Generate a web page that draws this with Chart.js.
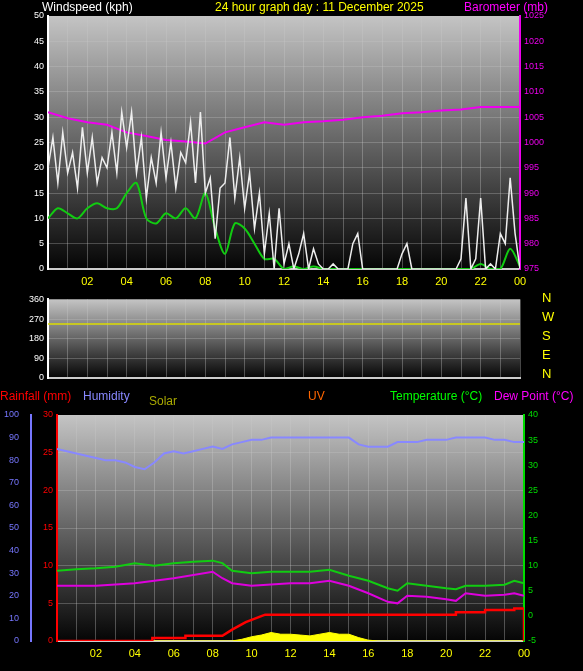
<!DOCTYPE html>
<html><head><meta charset="utf-8">
<script src="https://cdn.jsdelivr.net/npm/chart.js@4.4.1/dist/chart.umd.min.js"></script>
<style>
body{margin:0;background:#000;width:583px;height:671px;overflow:hidden;position:relative;font-family:"Liberation Sans",Arial,sans-serif}
canvas{position:absolute;left:0}
.t{position:absolute;font-size:12px;white-space:nowrap}
</style></head><body>
<canvas id="c1" style="top:0" width="583" height="290"></canvas>
<canvas id="c2" style="top:290px" width="583" height="100"></canvas>
<canvas id="c3" style="top:380px" width="583" height="291"></canvas>
<div class="t" style="left:42px;top:0;color:#fff">Windspeed (kph)</div>
<div class="t" style="left:215px;top:0;color:#ff0">24 hour graph day : 11 December 2025</div>
<div class="t" style="left:464px;top:0;color:#f0f">Barometer (mb)</div>
<div class="t" style="left:542px;top:288px;color:#ff0;line-height:19px;font-size:13px">N<br>W<br>S<br>E<br>N</div>
<div class="t" style="left:0;top:389px;color:#f00">Rainfall (mm)</div>
<div class="t" style="left:83px;top:389px;color:#88f">Humidity</div>
<div class="t" style="left:149px;top:394px;color:#aa0">Solar</div>
<div class="t" style="left:308px;top:389px;color:#f60">UV</div>
<div class="t" style="left:390px;top:389px;color:#0f0">Temperature (°C)</div>
<div class="t" style="left:494px;top:389px;color:#f0f">Dew Point (°C)</div>
<script>
// valeurs
const gust15 = [20,26,17,27, 19,23,16,28, 19,26,17,22, 20,27,19,31, 24,31,19,26, 14,22,17,27,
  18,25,16,23, 21,29,17,31, 15,18,6,16, 17,26,14,22, 12,19,8,15, 3,11,0,12,
  1,5,0,3, 7,0,4,1, 0,0,1,0, 0,0,5,7, 0,0,0,0, 0,0,0,0,
  3,5,0,0, 0,0,0,0, 0,0,0,0, 2,14,0,2, 14,0,1,0, 7,5,18,7, 0];
const avg30 = [10,12,11,10,12,13,12,12,15,17,10,9,11,10,12,10,15,8,3,9,8,5,2,2,
  0,0.5,0,0.5,0,0,0,0,0,0,0,0,0,0,0,0,0,0,0,0,1,0,0,4,0.5];
const baro = [1006,1004.8,1004,1003.5,1002,1001.3,1000.5,1000.2,999.8,1002,1003,1004,1003.5,
  1004,1004.2,1004.5,1005,1005.3,1005.8,1006,1006.3,1006.5,1007,1007,1007];
const windDir = 247;
const humidity = [85,84,83,82,81,80,80,79,77,76,79,83,84,83,84,85,86,85,87,88,89,89,90,90,
  90,90,90,90,90,90,90,87,86,86,86,88,88,88,89,89,89,90,90,90,90,89,89,88,88];
const tempH = [0,1,2,3,4,5,6,7,8,8.5,9,10,11,12,13,14,15,16,17,17.5,18,19,20,20.5,21,22,23,23.5,24];
const temp = [9,9.3,9.5,9.8,10.5,10,10.5,10.8,11,10.5,9,8.5,8.8,8.8,8.8,9.2,8,7,5.5,5,6.5,6,5.5,5.3,6,6,6.2,7,6.5];
const dewH = [0,2,4,6,8,8.5,9,10,12,13,14,15,16,17,17.5,18,19,20,20.5,21,22,23,23.5,24];
const dew = [6,6,6.5,7.5,8.8,7.5,6.5,6,6.5,6.5,7,6,4.5,2.8,2.5,4,3.8,3.3,3,4.5,4,4.2,4.5,4];
const rainH = [0,4.9,4.9,6.6,6.6,8.5,9,9.7,10.5,10.7,20.5,20.5,22,22,23.5,23.5,24,24];
const rain = [0,0,0.4,0.4,0.7,0.7,1.5,2.5,3.3,3.5,3.5,3.8,3.8,4.1,4.1,4.3,4.3,0];
const solarH = [0,9,9.5,10,10.5,11,11.5,12,12.5,13,13.5,14,14.5,15,15.5,16,16.5,24];
const solar = [0,0,6,15,21,30,24,24,21,18,24,30,24,24,12,3,0,0];

const hours = n => Array.from({length:n},(_,i)=>i*24/(n-1));
const pts = (xs,ys) => ys.map((y,i)=>({x:xs[i],y}));
const pad = v => String(v%24).padStart(2,'0');
const fnt = {size:9,family:'Liberation Sans'};

const bg = {id:'bg',beforeDraw(c){const a=c.chartArea,x=c.ctx;
  const g=x.createLinearGradient(0,a.top,0,a.bottom);
  g.addColorStop(0,'#c4c4c4');g.addColorStop(1,'#050505');
  x.save();x.fillStyle=g;x.fillRect(a.left,a.top,a.width,a.height);x.restore();}};

function xAxis(show){return {type:'linear',min:0,max:24,display:true,
  grid:{color:'rgba(200,200,200,0.35)',drawTicks:false},border:{color:'#ccc',width:2},
  ticks:{display:show,stepSize:1,color:'#ff0',font:{size:11},padding:6,autoSkip:false,maxRotation:0,
  callback:v=>(v%2===0&&v>0)?pad(v):''}};}
function yAx(pos,min,max,step,col,w,opts={}){return Object.assign({type:'linear',position:pos,min,max,
  grid:{display:pos==='left',color:'rgba(200,200,200,0.3)',drawTicks:false},border:{color:col,width:2},
  ticks:{stepSize:step,color:col,font:fnt,padding:4,callback:v=>String(v)},afterFit:s=>{s.width=w;}},opts);}
const base = {animation:false,responsive:false,plugins:{legend:{display:false},tooltip:{enabled:false}},
  elements:{point:{radius:0},line:{tension:0}}};

new Chart(document.getElementById('c1'),{type:'line',plugins:[bg],data:{datasets:[
  {data:pts(hours(97),gust15),borderColor:'#eee',borderWidth:1.5,yAxisID:'y'},
  {data:pts(hours(49),avg30),borderColor:'#1c1',borderWidth:2,yAxisID:'y',tension:0.3},
  {data:pts(hours(25),baro),borderColor:'#e0e',borderWidth:2,yAxisID:'y1'}]},
  options:Object.assign({},base,{layout:{padding:{top:16}},scales:{
    x:Object.assign(xAxis(true),{afterFit:s=>{s.height=21;}}),
    y:yAx('left',0,50,5,'#fff',48),y1:yAx('right',975,1025,5,'#e0e',63)}})});

new Chart(document.getElementById('c2'),{type:'line',plugins:[bg],data:{datasets:[
  {data:pts([0,24],[windDir,windDir]),borderColor:'#dd0',borderWidth:1.5,yAxisID:'y'}]},
  options:Object.assign({},base,{layout:{padding:{top:8,right:63,bottom:12}},scales:{
    x:Object.assign(xAxis(false),{afterFit:s=>{s.height=0;}}),
    y:yAx('left',0,360,90,'#fff',48)}})});

new Chart(document.getElementById('c3'),{type:'line',plugins:[bg],data:{datasets:[
  {data:pts(rainH,rain),borderColor:'#f00',borderWidth:2.5,yAxisID:'rain'},
  {data:pts(solarH,solar),borderColor:'#ff0',backgroundColor:'#ff0',fill:'origin',borderWidth:1,yAxisID:'sol'},
  {data:pts(hours(49),humidity),borderColor:'#88f',borderWidth:2,yAxisID:'hum'},
  {data:pts(tempH,temp),borderColor:'#1c1',borderWidth:2,yAxisID:'tmp'},
  {data:pts(dewH,dew),borderColor:'#d0d',borderWidth:2,yAxisID:'tmp'}]},
  options:Object.assign({},base,{layout:{padding:{top:35}},scales:{
    x:Object.assign(xAxis(true),{afterFit:s=>{s.height=30;}}),
    rain:yAx('left',0,30,5,'#f00',26),
    hum:yAx('left',0,100,5,'#77f',31,{grid:{display:false}}),
    tmp:yAx('right',-5,40,5,'#0d0',59),
    sol:{type:'linear',display:false,min:0,max:800}}})});
</script></body></html>
